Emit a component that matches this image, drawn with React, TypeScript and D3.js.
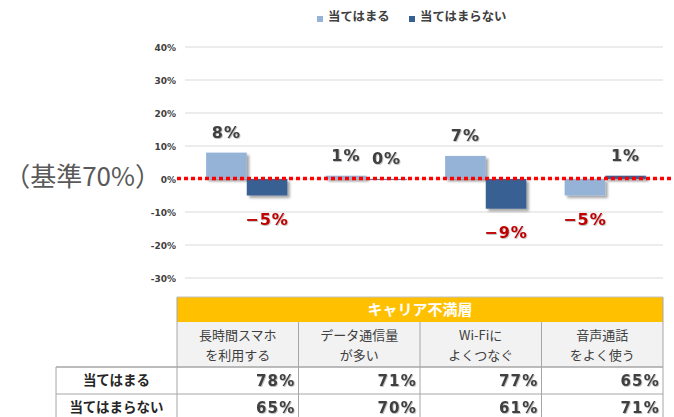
import React from "react";
import * as d3 from "d3";

const catLine1 = ["長時間スマホ", "データ通信量", "Wi-Fiに", "音声通話"];
const catLine2 = ["を利用する", "が多い", "よくつなぐ", "をよく使う"];
const categories = ["長時間スマホを利用する", "データ通信量が多い", "Wi-Fiによくつなぐ", "音声通話をよく使う"];
const seriesNames = ["当てはまる", "当てはまらない"];
const appliesValues = [78, 71, 77, 65];
const notAppliesValues = [65, 70, 61, 71];
const baselineValue = 70;
const yTicks = [-30, -20, -10, 0, 10, 20, 30, 40];
const tableTitle = "キャリア不満層";
const baselineLabel = "（基準70%）";

const W = 674;
const H = 417;
const colors = ["#95b3d7", "#376092"];
const SANS = "'DejaVu Sans', 'Noto Sans CJK JP', sans-serif";
const JP = "'Noto Sans CJK JP', sans-serif";

export default function App() {
  const y = d3.scaleLinear().domain([-30, 40]).range([278, 47]);
  const x0 = d3
    .scaleBand<string>()
    .domain(categories)
    .range([187, 665])
    .paddingInner(0.32)
    .paddingOuter(0.16);
  const x1 = d3.scaleBand<string>().domain(seriesNames).range([0, x0.bandwidth()]);
  const xt = d3.scaleBand<string>().domain(categories).range([177, 663]);
  const tableSeries = [appliesValues, notAppliesValues];
  const diffs = tableSeries.map((arr) => arr.map((v) => v - baselineValue));
  const fmt = (v: number) => (v < 0 ? "\u2212" : "") + Math.abs(v) + "%";

  const headTop = 297;
  const headBottom = 322;
  const subBottom = 367;
  const rowH = 27;
  const rowLabelLeft = 56;

  return (
    <svg
      width={W}
      height={H}
      style={{ position: "absolute", left: 0, top: 0, background: "#fff" }}
    >
      <defs>
        <filter id="sh" x="-20%" y="-50%" width="150%" height="250%">
          <feDropShadow dx="2.5" dy="2.5" stdDeviation="1.3" floodColor="#000" floodOpacity="0.35" />
        </filter>
        <filter id="tsh" x="-10%" y="-10%" width="130%" height="130%">
          <feDropShadow dx="0.8" dy="0.8" stdDeviation="0.4" floodColor="#000" floodOpacity="0.3" />
        </filter>
      </defs>

      {/* Legend */}
      <g>
        <rect x={317} y={16} width={6} height={6} fill={colors[0]} />
        <text x={328} y={21} fontFamily={JP} fontWeight="bold" fontSize={12.4} fill="#404040">
          {seriesNames[0]}
        </text>
        <rect x={409} y={16} width={6} height={6} fill={colors[1]} />
        <text x={420} y={21} fontFamily={JP} fontWeight="bold" fontSize={12.4} fill="#404040">
          {seriesNames[1]}
        </text>
      </g>

      {/* Grid and ticks */}
      {yTicks.map((t) => (
        <g key={t}>
          <line x1={185} x2={663} y1={y(t)} y2={y(t)} stroke="#d9d9d9" strokeWidth={1} />
          <text
            x={176}
            y={y(t) + 3.5}
            textAnchor="end"
            fontFamily={SANS}
            fontWeight="bold"
            fontSize={9}
            fill="#404040"
          >
            {t + "%"}
          </text>
        </g>
      ))}

      {/* Bars */}
      {categories.map((c, i) => (
        <g key={c} transform={`translate(${x0(c)},0)`}>
          {seriesNames.map((s, k) => {
            const v = diffs[k][i];
            const top = Math.min(y(v), y(0));
            const h = Math.max(Math.abs(y(v) - y(0)), 0.8);
            return (
              <rect
                key={s}
                x={x1(s)}
                y={top}
                width={x1.bandwidth()}
                height={h}
                fill={colors[k]}
                filter="url(#sh)"
              />
            );
          })}
        </g>
      ))}

      {/* Baseline dotted line */}
      <line
        x1={177}
        x2={674}
        y1={y(0) - 0.5}
        y2={y(0) - 0.5}
        stroke="#ff0000"
        strokeWidth={3.5}
        strokeDasharray="4,3"
      />

      {/* Value labels */}
      {categories.map((c, i) =>
        seriesNames.map((s, k) => {
          const v = diffs[k][i];
          const cx = (x0(c) as number) + (x1(s) as number) + x1.bandwidth() / 2;
          const yy = v >= 0 ? y(v) - 15 : y(v) + 29;
          return (
            <text
              key={c + s}
              x={cx}
              y={yy}
              textAnchor="middle"
              fontFamily={SANS}
              fontWeight="bold"
              fontSize={16}
              letterSpacing={1}
              fill={v >= 0 ? "#404040" : "#c00000"}
              filter="url(#tsh)"
            >
              {fmt(v)}
            </text>
          );
        })
      )}

      {/* Baseline annotation */}
      <text x={161} y={186} textAnchor="end" fontFamily={JP} fontSize={26} fill="#595959">
        {baselineLabel}
      </text>

      {/* Table */}
      <g>
        <rect x={177} y={headTop} width={486} height={headBottom - headTop} fill="#ffc000" />
        <text
          x={420}
          y={headTop + 18}
          textAnchor="middle"
          fontFamily={JP}
          fontWeight="bold"
          fontSize={15}
          fill="#ffffff"
        >
          {tableTitle}
        </text>
        <rect x={177} y={headBottom} width={486} height={subBottom - headBottom} fill="#f2f2f2" />
        {categories.map((c, i) => (
          <g key={c}>
            <text
              x={(xt(c) as number) + xt.bandwidth() / 2}
              y={headBottom + 18}
              textAnchor="middle"
              fontFamily={JP}
              fontSize={13}
              fill="#404040"
            >
              {catLine1[i]}
            </text>
            <text
              x={(xt(c) as number) + xt.bandwidth() / 2}
              y={headBottom + 38}
              textAnchor="middle"
              fontFamily={JP}
              fontSize={13}
              fill="#404040"
            >
              {catLine2[i]}
            </text>
          </g>
        ))}
        {/* data rows */}
        {seriesNames.map((s, k) => {
          const ry = subBottom + k * rowH;
          return (
            <g key={s}>
              <rect x={rowLabelLeft} y={ry} width={663 - rowLabelLeft} height={rowH} fill="#fff" />
              <text
                x={(rowLabelLeft + 177) / 2}
                y={ry + 18}
                textAnchor="middle"
                fontFamily={JP}
                fontWeight="bold"
                fontSize={13.5}
                fill="#262626"
              >
                {s}
              </text>
              {categories.map((c, i) => (
                <text
                  key={c}
                  x={(xt(c) as number) + xt.bandwidth() - 3}
                  y={ry + 19}
                  textAnchor="end"
                  fontFamily={SANS}
                  fontWeight="bold"
                  fontSize={15}
                  fill="#404040"
                  letterSpacing={1.2}
                  filter="url(#tsh)"
                >
                  {tableSeries[k][i] + "%"}
                </text>
              ))}
            </g>
          );
        })}
        {/* grid lines of table */}
        {[1, 2, 3].map((j) => {
          const xx = xt(categories[j]) as number;
          return <line key={j} x1={xx} x2={xx} y1={headBottom} y2={H} stroke="#a6a6a6" strokeWidth={1} />;
        })}
        <line x1={663} x2={663} y1={headTop} y2={H} stroke="#a6a6a6" strokeWidth={1} />
        <line x1={177} x2={177} y1={headTop} y2={H} stroke="#a6a6a6" strokeWidth={1} />
        <line x1={rowLabelLeft} x2={rowLabelLeft} y1={subBottom} y2={H} stroke="#a6a6a6" strokeWidth={1} />
        <line x1={177} x2={663} y1={headTop} y2={headTop} stroke="#bfbfbf" strokeWidth={1} />
        <line x1={rowLabelLeft} x2={663} y1={subBottom} y2={subBottom} stroke="#a6a6a6" strokeWidth={1.5} />
        <line x1={rowLabelLeft} x2={663} y1={subBottom + rowH} y2={subBottom + rowH} stroke="#a6a6a6" strokeWidth={1} />
      </g>
    </svg>
  );
}
